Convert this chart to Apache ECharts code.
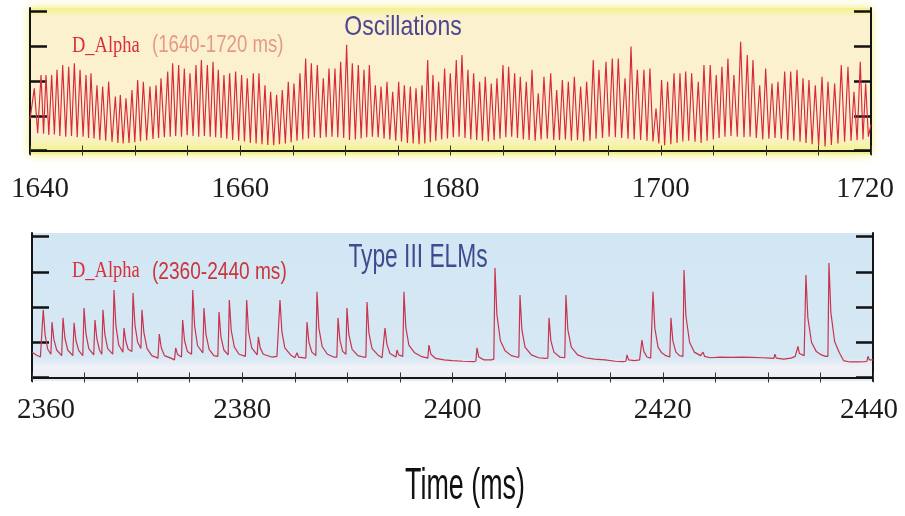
<!DOCTYPE html>
<html><head><meta charset="utf-8">
<script src="https://cdn.jsdelivr.net/npm/echarts@6/dist/echarts.min.js"></script>
<style>html,body{margin:0;padding:0;background:#fff}#c{width:905px;height:516px}</style>
</head><body><div id="c"></div>
<script>
// ---- axes ----
const topRange = [1640, 1720];
const bottomRange = [2360, 2440];
const topTickLabels = [1640, 1660, 1680, 1700, 1720];
const bottomTickLabels = [2360, 2380, 2400, 2420, 2440];
const yTicks = [0, 1, 2, 3, 4];

// ---- top panel: D_Alpha oscillations (1640-1720 ms) ----
const topEdgeT = [1640.00, 1720.00];
const topEdgeV = [0.90, 0.75];
const topPeakT = [
 1640.41,1641.05,1641.52,1642.06,1642.57,1643.11,1643.68,1644.22,1644.76,1645.33,1645.80,1646.37,1646.91,1647.48,1648.12,1648.59,1649.13,1649.70,1650.24,1650.78,1651.41,1651.99,1652.46,1653.10,1653.57,1654.14,1654.68,1655.22,1655.79,
 1656.30,1656.87,1657.41,1657.91,1658.45,1658.99,1659.56,1660.13,1660.67,1661.24,1661.78,1662.35,1662.89,1663.46,1664.00,1664.57,1665.11,1665.68,1666.22,1666.76,1667.33,1667.90,1668.44,1669.01,1669.55,1670.12,1670.66,1671.23,1671.77,
 1672.28,1672.85,1673.39,1673.96,1674.50,1675.07,1675.61,1676.18,1676.72,1677.29,1677.83,1678.33,1678.87,1679.44,1679.98,1680.55,1681.09,1681.66,1682.20,1682.77,1683.31,1683.88,1684.42,1684.99,1685.53,1686.10,1686.64,1687.21,1687.75,
 1688.35,1688.89,1689.53,1690.10,1690.64,1691.21,1691.78,1692.38,1692.95,1693.58,1694.12,1694.79,1695.39,1695.96,1696.60,1697.17,1697.77,1698.40,1698.97,1699.55,1700.08,1700.65,1701.26,1701.83,1702.37,1702.94,1703.57,
 1704.11,1704.71,1705.28,1705.82,1706.39,1706.96,1707.60,1708.23,1708.77,1709.41,1709.98,1710.58,1711.15,1711.79,1712.36,1712.96,1713.53,1714.10,1714.70,1715.34,1715.91,1716.54,1717.17,1717.81,1718.38,1718.98,1719.49
];
const topPeakV = [
 1.79,2.17,2.17,2.17,2.32,2.46,2.41,2.51,2.32,2.17,2.22,1.88,1.84,1.98,1.55,1.60,1.50,1.74,2.03,1.98,1.84,1.88,2.08,2.27,2.51,2.46,2.36,2.22,2.46,
 2.60,2.46,2.55,2.32,2.17,2.22,2.27,2.17,2.08,2.22,2.22,1.88,1.69,1.60,1.74,1.98,1.93,2.22,2.65,2.51,2.46,2.08,2.36,2.36,2.55,3.04,2.51,2.46,2.32,
 2.46,1.88,1.84,1.98,1.69,1.98,1.88,1.84,1.79,1.88,2.60,2.17,1.98,2.36,2.22,2.60,2.75,2.32,2.22,1.98,2.12,1.93,2.08,2.46,2.41,2.22,2.12,1.98,2.32,
 1.65,2.12,2.22,1.74,2.03,1.98,2.12,1.84,1.98,2.60,2.32,2.55,2.65,2.65,2.08,2.99,2.32,2.32,2.36,1.21,2.03,1.98,2.22,2.22,2.27,2.22,1.98,
 2.46,2.46,2.17,2.41,2.65,2.17,3.13,2.75,2.60,1.88,2.36,1.93,1.98,2.27,2.27,2.32,2.08,2.03,1.88,2.12,1.98,1.93,2.46,2.41,1.69,2.55,1.93
];
const topTroughT = [
 1640.73,1641.29,1641.79,1642.32,1642.84,1643.40,1643.95,1644.49,1645.05,1645.57,1646.09,1646.64,1647.20,1647.80,1648.36,1648.86,1649.42,1649.97,1650.51,1651.10,1651.70,1652.23,1652.78,1653.34,1653.86,1654.41,1654.95,1655.51,1656.05,
 1656.59,1657.14,1657.66,1658.18,1658.72,1659.28,1659.85,1660.40,1660.96,1661.51,1662.07,1662.62,1663.18,1663.73,1664.29,1664.84,1665.40,1665.95,1666.49,1667.05,1667.62,1668.17,1668.73,1669.28,1669.84,1670.39,1670.95,1671.50,1672.03,
 1672.57,1673.12,1673.68,1674.23,1674.79,1675.34,1675.90,1676.45,1677.01,1677.56,1678.08,1678.60,1679.16,1679.71,1680.27,1680.82,1681.38,1681.93,1682.49,1683.04,1683.60,1684.15,1684.71,1685.26,1685.82,1686.37,1686.93,1687.48,1688.05,
 1688.62,1689.21,1689.82,1690.37,1690.93,1691.50,1692.08,1692.67,1693.27,1693.85,1694.46,1695.09,1695.68,1696.28,1696.89,1697.47,1698.09,1698.69,1699.26,1699.82,1700.37,1700.96,1701.55,1702.10,1702.66,1703.26,1703.84,
 1704.41,1705.00,1705.55,1706.11,1706.68,1707.28,1707.92,1708.50,1709.09,1709.70,1710.28,1710.87,1711.47,1712.08,1712.66,1713.25,1713.82,1714.40,1715.02,1715.63,1716.23,1716.86,1717.49,1718.10,1718.68,1719.24,1719.75
];
const topTroughV = [
 0.50,0.48,0.45,0.46,0.42,0.40,0.42,0.38,0.40,0.36,0.35,0.30,0.28,0.25,0.22,0.20,0.22,0.24,0.27,0.30,0.33,0.36,0.38,0.40,0.42,0.40,0.44,0.42,0.40,
 0.42,0.40,0.38,0.36,0.34,0.30,0.28,0.26,0.22,0.20,0.18,0.16,0.15,0.18,0.20,0.24,0.28,0.32,0.35,0.38,0.36,0.38,0.40,0.38,0.36,0.30,0.32,0.35,0.38,
 0.40,0.38,0.35,0.32,0.28,0.26,0.22,0.20,0.18,0.20,0.24,0.28,0.32,0.35,0.38,0.40,0.36,0.32,0.30,0.28,0.26,0.30,0.34,0.38,0.40,0.36,0.32,0.30,0.28,
 0.32,0.34,0.30,0.30,0.32,0.28,0.30,0.26,0.28,0.34,0.36,0.40,0.38,0.36,0.34,0.32,0.30,0.28,0.26,0.20,0.15,0.18,0.22,0.26,0.28,0.25,0.22,
 0.28,0.32,0.36,0.40,0.42,0.40,0.38,0.40,0.36,0.32,0.34,0.36,0.34,0.30,0.28,0.25,0.22,0.18,0.14,0.12,0.16,0.20,0.25,0.28,0.30,0.32,0.40
];

// ---- bottom panel: Type III ELMs (2360-2440 ms), [time, value] ----
const elmSignal = [
 [2360.00,0.72],[2360.40,0.64],[2360.80,0.58],
 [2360.95,0.60],[2361.07,1.92],[2361.25,1.20],[2361.50,0.80],
 [2361.80,0.66],[2361.90,1.57],[2362.08,1.08],[2362.35,0.78],
 [2362.82,0.62],[2362.95,1.69],[2363.13,1.12],[2363.40,0.78],
 [2363.88,0.62],[2364.00,1.55],[2364.18,1.05],[2364.45,0.76],
 [2364.83,0.62],[2364.95,1.97],[2365.13,1.25],[2365.40,0.82],
 [2365.87,0.64],[2365.99,1.63],[2366.17,1.10],[2366.42,0.78],
 [2366.64,0.66],[2366.75,1.92],[2366.93,1.22],[2367.20,0.82],
 [2367.68,0.66],[2367.80,2.48],[2367.98,1.48],[2368.25,0.92],
 [2368.65,0.72],[2368.75,1.40],[2368.93,1.02],[2369.15,0.80],
 [2369.50,0.74],[2369.61,2.40],[2369.79,1.50],[2370.05,1.00],
 [2370.36,0.82],[2370.46,1.92],[2370.64,1.28],[2370.95,0.82],[2371.40,0.62],
 [2371.98,0.55],[2372.11,1.23],[2372.29,0.85],[2372.60,0.62],[2373.20,0.55],
 [2373.55,0.50],[2373.67,0.84],[2373.85,0.65],
 [2374.22,0.58],[2374.33,1.63],[2374.51,1.05],[2374.78,0.74],
 [2375.18,0.66],[2375.29,2.48],[2375.47,1.46],[2375.75,0.90],
 [2376.25,0.70],[2376.36,1.97],[2376.54,1.24],[2376.85,0.80],[2377.30,0.62],
 [2377.68,0.60],[2377.79,1.86],[2377.97,1.16],[2378.25,0.78],
 [2378.66,0.64],[2378.77,2.20],[2378.95,1.34],[2379.25,0.86],[2379.70,0.66],
 [2380.30,0.60],[2380.42,2.20],[2380.60,1.30],[2380.90,0.84],
 [2381.42,0.64],[2381.53,1.15],[2381.71,0.84],[2382.00,0.66],[2382.80,0.58],[2383.30,0.60],
 [2383.48,0.58],[2383.59,2.20],[2383.77,1.30],[2384.05,0.84],[2384.60,0.64],[2385.00,0.56],
 [2385.12,0.54],[2385.21,0.70],[2385.35,0.58],
 [2386.05,0.55],[2386.16,1.57],[2386.34,1.00],[2386.62,0.72],
 [2387.00,0.62],[2387.11,2.43],[2387.29,1.40],[2387.60,0.88],[2388.10,0.66],[2388.70,0.58],
 [2389.00,0.58],[2389.11,1.69],[2389.29,1.06],[2389.55,0.74],
 [2389.86,0.66],[2389.96,1.97],[2390.14,1.22],[2390.45,0.80],[2391.00,0.62],[2391.50,0.58],
 [2391.76,0.58],[2391.87,2.14],[2392.05,1.26],[2392.35,0.82],[2392.90,0.64],[2393.30,0.56],
 [2393.47,0.56],[2393.58,1.40],[2393.76,0.94],[2394.05,0.68],
 [2394.62,0.58],[2394.72,0.78],[2394.88,0.64],
 [2395.27,0.60],[2395.38,2.43],[2395.56,1.42],[2395.85,0.92],[2396.40,0.70],[2397.00,0.60],
 [2397.65,0.55],[2397.76,0.92],[2397.94,0.66],[2398.40,0.54],[2399.20,0.50],[2400.00,0.48],[2401.00,0.46],[2402.00,0.45],
 [2402.22,0.46],[2402.33,0.84],[2402.50,0.58],[2403.00,0.50],[2403.70,0.50],
 [2403.93,0.52],[2404.04,3.11],[2404.22,1.80],[2404.55,1.05],[2405.00,0.76],[2405.60,0.62],[2406.10,0.58],
 [2406.31,0.58],[2406.42,2.34],[2406.60,1.36],[2406.90,0.86],[2407.50,0.64],[2408.20,0.56],[2408.80,0.54],
 [2409.07,0.55],[2409.18,1.69],[2409.36,1.04],[2409.65,0.72],[2410.20,0.58],
 [2410.68,0.56],[2410.79,2.34],[2410.97,1.36],[2411.30,0.86],[2411.90,0.64],[2412.60,0.56],[2413.50,0.52],[2414.50,0.50],[2415.50,0.46],[2416.20,0.45],
 [2416.50,0.46],[2416.60,0.64],[2416.75,0.50],[2417.30,0.48],[2417.80,0.50],
 [2417.92,0.50],[2418.02,1.06],[2418.20,0.74],[2418.50,0.58],[2418.85,0.55],
 [2418.97,0.55],[2419.07,2.43],[2419.25,1.40],[2419.55,0.86],[2419.90,0.70],[2420.30,0.62],
 [2420.67,0.58],[2420.78,1.69],[2420.96,1.04],[2421.25,0.72],[2421.60,0.62],
 [2421.92,0.60],[2422.02,3.05],[2422.20,1.76],[2422.55,1.00],[2423.00,0.72],[2423.60,0.62],
 [2423.75,0.60],[2423.83,0.72],[2423.98,0.60],[2424.50,0.56],[2425.50,0.58],[2426.50,0.57],[2427.50,0.58],[2428.50,0.57],[2429.50,0.56],[2430.20,0.55],
 [2430.57,0.54],[2430.67,0.66],[2430.80,0.55],[2431.50,0.52],[2432.20,0.55],[2432.60,0.60],
 [2432.76,0.62],[2432.86,0.88],[2433.00,0.68],[2433.45,0.62],
 [2433.52,0.62],[2433.62,2.91],[2433.80,1.70],[2434.15,1.00],[2434.60,0.74],[2435.10,0.64],[2435.50,0.60],
 [2435.71,0.60],[2435.81,3.25],[2435.99,1.85],[2436.35,1.02],[2436.80,0.70],[2437.20,0.48],[2437.80,0.44],[2438.60,0.44],[2439.20,0.45],
 [2439.42,0.46],[2439.52,0.60],[2439.65,0.50],[2440.00,0.50]
];

// build top signal polyline from read peaks and troughs
const topSignal = [[topEdgeT[0], topEdgeV[0]]];
for (let i = 0; i < topPeakT.length; i++) {
  topSignal.push([topPeakT[i], topPeakV[i]]);
  topSignal.push([topTroughT[i], topTroughV[i]]);
}
topSignal.push([topEdgeT[1], topEdgeV[1]]);

const chart = echarts.init(document.getElementById('c'), null, {renderer: 'canvas'});
const frame = {show: true, lineStyle: {color: '#151515', width: 2}};
const tickFont = {fontFamily: 'Liberation Serif', fontSize: 29, color: '#1c1c1c'};

function xLabelAxis(gi, range, labels, padL, padR, margin) {
  return {
    type: 'value', gridIndex: gi, position: 'bottom', min: range[0], max: range[1], interval: 20,
    axisLine: frame,
    axisTick: {show: true, inside: true, length: 5, lineStyle: {color: '#333', width: 1}},
    minorTick: {show: true, splitNumber: 4, length: 5, lineStyle: {color: '#333', width: 1}},
    splitLine: {show: false}, minorSplitLine: {show: false},
    axisLabel: Object.assign({
      margin: margin, showMinLabel: true, showMaxLabel: true, hideOverlap: false,
      formatter: v => v === labels[0] ? '{l|' + v + '}' : (v === labels[labels.length - 1] ? '{r|' + v + '}' : String(v)),
      rich: {
        l: Object.assign({padding: [0, 0, 0, padL]}, tickFont),
        r: Object.assign({padding: [0, padR, 0, 0]}, tickFont)
      }
    }, tickFont)
  };
}
function xTopAxis(gi, range) {
  return {
    type: 'value', gridIndex: gi, position: 'top', min: range[0], max: range[1], interval: 5,
    axisLine: frame,
    axisTick: {show: true, inside: true, length: 5, lineStyle: {color: '#333', width: 1}},
    axisLabel: {show: false}, splitLine: {show: false}
  };
}
function yAxisFor(gi, pos) {
  return {
    type: 'value', gridIndex: gi, position: pos, min: -0.1, max: 4.1,
    axisLine: frame,
    axisTick: {show: true, inside: true, length: 17, customValues: yTicks, lineStyle: {color: '#111', width: 2.5}},
    axisLabel: {show: false}, splitLine: {show: false}
  };
}

const T = (x, y, text, font, fill, align, sx) => ({
  type: 'text', x: x, y: y, scaleX: sx, scaleY: 1, silent: true, z: 100,
  style: {text: text, font: font, fill: fill, textAlign: align, textVerticalAlign: 'middle'}
});

chart.setOption({
  animation: false,
  backgroundColor: '#ffffff',
  grid: [
    {left: 30, right: 34, top: 8, height: 146, show: true, borderWidth: 0,
     shadowColor: 'rgba(238,232,80,0.9)', shadowBlur: 9,
     backgroundColor: {type: 'linear', x: 0, y: 0, x2: 0, y2: 1, colorStops: [
       {offset: 0, color: '#F4F18E'}, {offset: 0.06, color: '#FBF1CF'},
       {offset: 0.88, color: '#FBF1CF'}, {offset: 0.95, color: '#F6F3A2'}, {offset: 1, color: '#F1EE84'}]}},
    {left: 32, right: 32, top: 233, height: 148, show: true, borderWidth: 0,
     backgroundColor: {type: 'linear', x: 0, y: 0, x2: 0, y2: 1, colorStops: [
       {offset: 0, color: '#D3E6F3'}, {offset: 0.84, color: '#D5E8F4'},
       {offset: 0.91, color: '#F1F1F6'}, {offset: 1, color: '#E3ECF5'}]}}
  ],
  xAxis: [
    xLabelAxis(0, topRange, topTickLabels, 20, 12, 21),
    xTopAxis(0, topRange),
    xLabelAxis(1, bottomRange, bottomTickLabels, 28, 8, 15),
    xTopAxis(1, bottomRange)
  ],
  yAxis: [yAxisFor(0, 'left'), yAxisFor(0, 'right'), yAxisFor(1, 'left'), yAxisFor(1, 'right')],
  series: [
    {type: 'line', xAxisIndex: 0, yAxisIndex: 0, data: topSignal, showSymbol: false, symbol: 'none',
     lineStyle: {color: '#D8283E', width: 1.15}, z: 5},
    {type: 'line', xAxisIndex: 2, yAxisIndex: 2, data: elmSignal, showSymbol: false, symbol: 'none',
     lineStyle: {color: '#C8344E', width: 1.2}, z: 5}
  ],
  graphic: [
    T(72, 46, 'D_Alpha', '24px "Liberation Serif"', '#D8303A', 'left', 0.77),
    T(152, 46, '(1640-1720 ms)', '23px "Liberation Sans"', '#E59A86', 'left', 0.81),
    T(403, 27, 'Oscillations', '28px "Liberation Sans"', '#4C478E', 'center', 0.82),
    T(72, 271, 'D_Alpha', '24px "Liberation Serif"', '#D8303A', 'left', 0.77),
    T(152, 273, '(2360-2440 ms)', '23px "Liberation Sans"', '#C9353B', 'left', 0.83),
    T(418, 258, 'Type III ELMs', '33px "Liberation Sans"', '#3D4C8E', 'center', 0.69),
    T(465, 487, 'Time (ms)', '44px "Liberation Sans"', '#111111', 'center', 0.61)
  ]
});
</script>
</body></html>
